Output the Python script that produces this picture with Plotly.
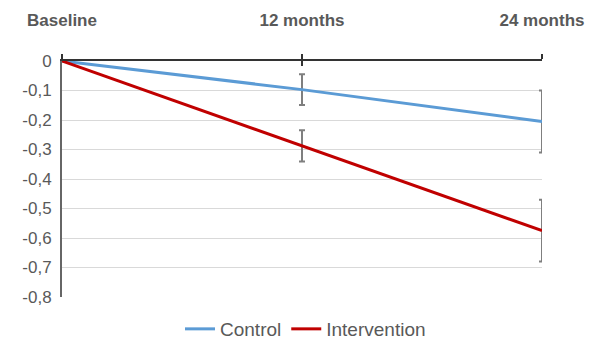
import plotly.graph_objects as go

months = [0, 12, 24]
month_labels = ["Baseline", "12 months", "24 months"]
control = [0, -0.097, -0.205]
control_err = [0, 0.052, 0.105]
intervention = [0, -0.288, -0.575]
intervention_err = [0, 0.053, 0.105]
y_ticks = [0, -0.1, -0.2, -0.3, -0.4, -0.5, -0.6, -0.7, -0.8]
y_labels = ["0", "-0,1", "-0,2", "-0,3", "-0,4", "-0,5", "-0,6", "-0,7", "-0,8"]

FONT = "Liberation Sans, Arial, sans-serif"
GRAY = "#595959"
ERR = "#7F7F7F"

fig = go.Figure()
fig.add_trace(go.Scatter(
    x=months, y=control, name="Control", mode="lines",
    line=dict(color="#5B9BD5", width=3),
    error_y=dict(type="data", array=control_err, color=ERR, thickness=2, width=3),
))
fig.add_trace(go.Scatter(
    x=months, y=intervention, name="Intervention", mode="lines",
    line=dict(color="#C00000", width=3),
    error_y=dict(type="data", array=intervention_err, color=ERR, thickness=2, width=3),
))
# invisible trace to anchor a second x axis with inside ticks (cross ticks)
fig.add_trace(go.Scatter(x=months, y=control, xaxis="x2", mode="lines",
                         line=dict(width=0), showlegend=False, hoverinfo="skip"))

# the page body has an 8px default margin, so margins are reduced by 8px
fig.update_layout(
    width=595, height=340,
    margin=dict(l=54, r=61, t=53, b=51, autoexpand=False),
    plot_bgcolor="white", paper_bgcolor="white",
    font=dict(family=FONT, color=GRAY, size=17),
    xaxis=dict(
        range=[0, 24], side="top", tickmode="array", tickvals=months,
        ticktext=["<b>%s</b>" % t for t in month_labels],
        showline=True, linecolor="#333333", linewidth=1.5,
        ticks="outside", ticklen=5, tickcolor="#333333", tickwidth=1.5,
        ticklabelstandoff=21, showgrid=False, zeroline=False, automargin=False,
        tickfont=dict(size=17, color=GRAY),
    ),
    xaxis2=dict(
        range=[0, 24], side="top", overlaying="x", anchor="y",
        tickmode="array", tickvals=months, showticklabels=False,
        ticks="inside", ticklen=5, tickcolor="#333333", tickwidth=1.5,
        showgrid=False, zeroline=False, showline=False, automargin=False,
    ),
    yaxis=dict(
        range=[-0.8, 0], tickmode="array", tickvals=y_ticks, ticktext=y_labels,
        showgrid=True, gridcolor="#D9D9D9", gridwidth=1,
        showline=True, linecolor="#666666", linewidth=2,
        zeroline=False, ticks="", ticklabelstandoff=5, automargin=False,
        tickfont=dict(size=17, color=GRAY),
    ),
    legend=dict(
        orientation="h", x=0.5, xref="container", xanchor="center",
        y=6, yref="container", yanchor="bottom",
        font=dict(size=19, color=GRAY), itemwidth=30, traceorder="normal",
    ),
    showlegend=True,
)

fig.write_html("out.html")
